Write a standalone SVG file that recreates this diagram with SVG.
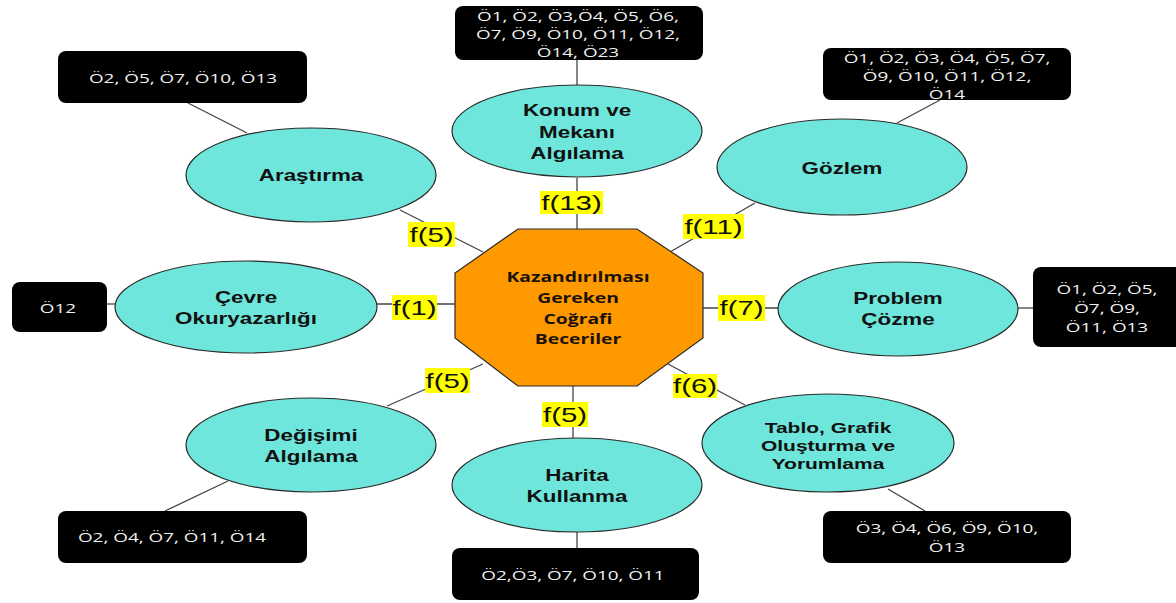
<svg xmlns="http://www.w3.org/2000/svg" width="1176" height="603" viewBox="0 0 1176 603">
<style>
.ell{fill:#6ee6dc;stroke:#2a2a2a;stroke-width:1.2}
.oct{fill:#ff9900;stroke:#2a2a2a;stroke-width:1.2}
.box{fill:#000}
.lab{fill:#ffff00}
.con line{stroke:#444;stroke-width:1.3}
.et{font-family:"Liberation Sans",Arial,sans-serif;font-weight:bold;font-size:16px;fill:#111;text-anchor:middle}
.et15{font-size:15px}
.ot{font-family:"Open Sans","Liberation Sans",sans-serif;font-weight:bold;font-size:14px;fill:#1a1208;text-anchor:middle}
.bt{font-family:"Open Sans","Liberation Sans",sans-serif;font-size:13.5px;fill:#f2f2f2;text-anchor:middle}
.ft{font-family:"Liberation Sans",Arial,sans-serif;font-size:21px;fill:#111;text-anchor:middle}
</style>
<rect width="1176" height="603" fill="#fff"/>
<g id="connectors" class="con">
<line x1="577" y1="60" x2="577" y2="85"/>
<line x1="577" y1="178" x2="577" y2="229"/>
<line x1="940" y1="100" x2="897" y2="123"/>
<line x1="755" y1="203" x2="670" y2="252"/>
<line x1="188" y1="103" x2="247" y2="133"/>
<line x1="400" y1="210" x2="483" y2="252"/>
<line x1="107" y1="304" x2="115" y2="304"/>
<line x1="377" y1="304" x2="455" y2="304"/>
<line x1="165" y1="511" x2="228" y2="481"/>
<line x1="387" y1="406" x2="483" y2="364"/>
<line x1="573" y1="386" x2="573" y2="438"/>
<line x1="577" y1="532" x2="577" y2="548"/>
<line x1="703" y1="308" x2="779" y2="308"/>
<line x1="1018" y1="308" x2="1033" y2="308"/>
<line x1="668" y1="364" x2="745" y2="405"/>
<line x1="925" y1="511" x2="888" y2="489"/>
</g>
<g id="center">
<polygon class="oct" points="518,229 637,229 703,273 703,338 637,386 518,386 455,338 455,273"/>
<text class="ot" transform="translate(578,0) scale(1.38,1)" x="0" y="282">Kazandırılması</text>
<text class="ot" transform="translate(578,0) scale(1.38,1)" x="0" y="303">Gereken</text>
<text class="ot" transform="translate(578,0) scale(1.38,1)" x="0" y="324">Coğrafi</text>
<text class="ot" transform="translate(578,0) scale(1.38,1)" x="0" y="344">Beceriler</text>
</g>
<g id="konum">
<ellipse class="ell" cx="577" cy="131" rx="125" ry="46"/>
<text class="et" transform="translate(577,0) scale(1.4,1)" x="0" y="116">Konum ve</text>
<text class="et" transform="translate(577,0) scale(1.4,1)" x="0" y="138">Mekanı</text>
<text class="et" transform="translate(577,0) scale(1.4,1)" x="0" y="159">Algılama</text>
</g>
<g id="konum-box">
<rect class="box" x="455" y="6" width="248" height="54" rx="8"/>
<text class="bt" transform="translate(578,0) scale(1.4,1)" x="0" y="21">Ö1, Ö2, Ö3,Ö4, Ö5, Ö6,</text>
<text class="bt" transform="translate(578,0) scale(1.4,1)" x="0" y="39">Ö7, Ö9, Ö10, Ö11, Ö12,</text>
<text class="bt" transform="translate(578,0) scale(1.4,1)" x="0" y="57">Ö14, Ö23</text>
</g>
<g id="gozlem">
<ellipse class="ell" cx="842" cy="167" rx="125" ry="48"/>
<text class="et" transform="translate(842,0) scale(1.4,1)" x="0" y="174">Gözlem</text>
</g>
<g id="gozlem-box">
<rect class="box" x="823" y="48" width="248" height="52" rx="8"/>
<text class="bt" transform="translate(947,0) scale(1.4,1)" x="0" y="63">Ö1, Ö2, Ö3, Ö4, Ö5, Ö7,</text>
<text class="bt" transform="translate(947,0) scale(1.4,1)" x="0" y="81">Ö9, Ö10, Ö11, Ö12,</text>
<text class="bt" transform="translate(947,0) scale(1.4,1)" x="0" y="99">Ö14</text>
</g>
<g id="arastirma">
<ellipse class="ell" cx="311" cy="175" rx="125" ry="47"/>
<text class="et" transform="translate(311,0) scale(1.4,1)" x="0" y="181">Araştırma</text>
</g>
<g id="arastirma-box">
<rect class="box" x="58" y="51" width="249" height="52" rx="8"/>
<text class="bt" transform="translate(183,0) scale(1.4,1)" x="0" y="83">Ö2, Ö5, Ö7, Ö10, Ö13</text>
</g>
<g id="cevre">
<ellipse class="ell" cx="246" cy="307" rx="131" ry="46"/>
<text class="et" transform="translate(246,0) scale(1.4,1)" x="0" y="303">Çevre</text>
<text class="et" transform="translate(246,0) scale(1.4,1)" x="0" y="324">Okuryazarlığı</text>
</g>
<g id="cevre-box">
<rect class="box" x="12" y="282" width="95" height="50" rx="8"/>
<text class="bt" transform="translate(58,0) scale(1.4,1)" x="0" y="313">Ö12</text>
</g>
<g id="degisimi">
<ellipse class="ell" cx="311" cy="445" rx="125" ry="47"/>
<text class="et" transform="translate(311,0) scale(1.4,1)" x="0" y="441">Değişimi</text>
<text class="et" transform="translate(311,0) scale(1.4,1)" x="0" y="462">Algılama</text>
</g>
<g id="degisimi-box">
<rect class="box" x="58" y="511" width="249" height="52" rx="8"/>
<text class="bt" transform="translate(172,0) scale(1.4,1)" x="0" y="542">Ö2, Ö4, Ö7, Ö11, Ö14</text>
</g>
<g id="harita">
<ellipse class="ell" cx="577" cy="485" rx="125" ry="47"/>
<text class="et" transform="translate(577,0) scale(1.4,1)" x="0" y="481">Harita</text>
<text class="et" transform="translate(577,0) scale(1.4,1)" x="0" y="502">Kullanma</text>
</g>
<g id="harita-box">
<rect class="box" x="452" y="548" width="247" height="52" rx="8"/>
<text class="bt" transform="translate(573,0) scale(1.4,1)" x="0" y="580">Ö2,Ö3, Ö7, Ö10, Ö11</text>
</g>
<g id="problem">
<ellipse class="ell" cx="898" cy="309" rx="120" ry="47"/>
<text class="et" transform="translate(898,0) scale(1.4,1)" x="0" y="304">Problem</text>
<text class="et" transform="translate(898,0) scale(1.4,1)" x="0" y="325">Çözme</text>
</g>
<g id="problem-box">
<rect class="box" x="1033" y="267" width="150" height="80" rx="8"/>
<text class="bt" transform="translate(1107,0) scale(1.4,1)" x="0" y="294">Ö1, Ö2, Ö5,</text>
<text class="bt" transform="translate(1107,0) scale(1.4,1)" x="0" y="313">Ö7, Ö9,</text>
<text class="bt" transform="translate(1107,0) scale(1.4,1)" x="0" y="332">Ö11, Ö13</text>
</g>
<g id="tablo">
<ellipse class="ell" cx="828" cy="443" rx="126" ry="49"/>
<text class="et et15" transform="translate(828,0) scale(1.4,1)" x="0" y="433">Tablo, Grafik</text>
<text class="et et15" transform="translate(828,0) scale(1.4,1)" x="0" y="451">Oluşturma ve</text>
<text class="et et15" transform="translate(828,0) scale(1.4,1)" x="0" y="469">Yorumlama</text>
</g>
<g id="tablo-box">
<rect class="box" x="823" y="511" width="248" height="52" rx="8"/>
<text class="bt" transform="translate(947,0) scale(1.4,1)" x="0" y="533">Ö3, Ö4, Ö6, Ö9, Ö10,</text>
<text class="bt" transform="translate(947,0) scale(1.4,1)" x="0" y="552">Ö13</text>
</g>
<g id="labels">
<rect class="lab" x="540" y="191" width="63" height="23"/>
<text class="ft" transform="translate(571.5,0) scale(1.4,1)" x="0" y="210">f(13)</text>
<rect class="lab" x="683" y="214" width="61" height="25"/>
<text class="ft" transform="translate(713.5,0) scale(1.4,1)" x="0" y="234">f(11)</text>
<rect class="lab" x="408" y="222" width="47" height="25"/>
<text class="ft" transform="translate(431.5,0) scale(1.4,1)" x="0" y="242">f(5)</text>
<rect class="lab" x="392" y="295" width="45" height="25"/>
<text class="ft" transform="translate(414.5,0) scale(1.4,1)" x="0" y="315">f(1)</text>
<rect class="lab" x="718" y="295" width="47" height="26"/>
<text class="ft" transform="translate(741.5,0) scale(1.4,1)" x="0" y="315">f(7)</text>
<rect class="lab" x="425" y="368" width="45" height="25"/>
<text class="ft" transform="translate(447.5,0) scale(1.4,1)" x="0" y="388">f(5)</text>
<rect class="lab" x="673" y="374" width="44" height="24"/>
<text class="ft" transform="translate(695,0) scale(1.4,1)" x="0" y="393">f(6)</text>
<rect class="lab" x="542" y="402" width="46" height="25"/>
<text class="ft" transform="translate(565,0) scale(1.4,1)" x="0" y="422">f(5)</text>
</g>
</svg>
